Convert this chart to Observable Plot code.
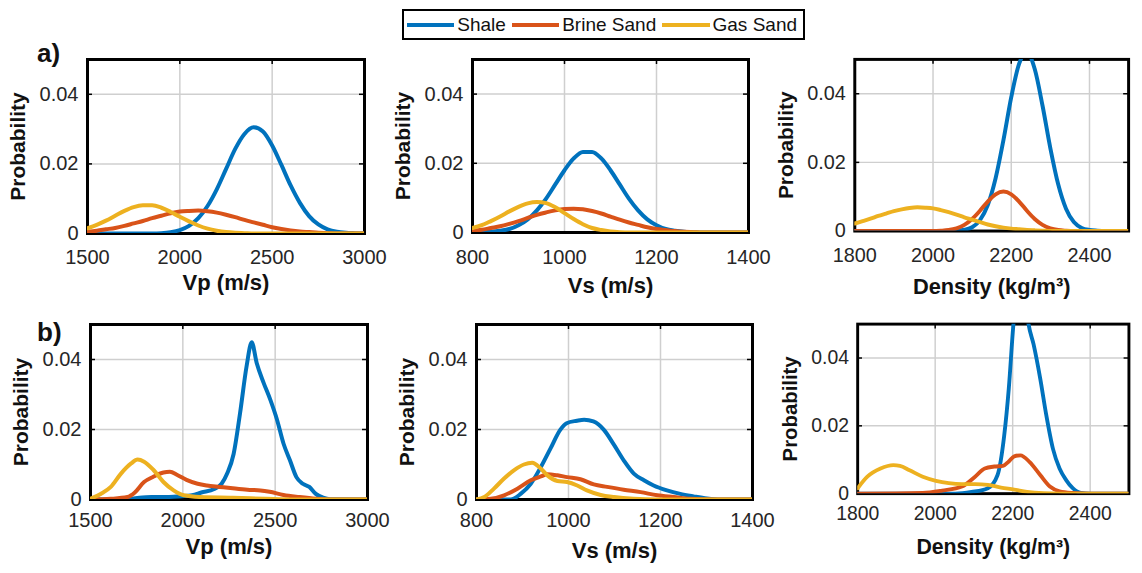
<!DOCTYPE html>
<html><head><meta charset="utf-8">
<script src="https://cdn.jsdelivr.net/npm/d3@7"></script>
<script src="https://cdn.jsdelivr.net/npm/@observablehq/plot@0.6"></script>
<style>
html,body{margin:0;padding:0;background:#fff;}
body{width:1142px;height:573px;overflow:hidden;position:relative;font-family:"Liberation Sans",Arial,Helvetica,sans-serif;}
.panel{position:absolute;}
.panel svg{overflow:visible;}
#legend{position:absolute;left:402px;top:9px;width:399px;height:27px;border:2px solid #000;display:flex;align-items:center;font-size:19px;color:#111;background:#fff;}
#legend .sw{display:inline-block;width:48px;height:4px;margin-right:3px;}
#legend .lb{margin-right:6px;white-space:nowrap;}
#tags{position:absolute;left:0;top:0;}
</style></head>
<body>
<div id="legend"></div>
<svg id="tags" width="1142" height="573"></svg>
<script>
// ---------- categories / styling lists ----------
const series = ["Shale", "Brine Sand", "Gas Sand"];
const seriesColors = ["#0072BD", "#D95319", "#EDB120"];
const yTicks = [0, 0.02, 0.04];
const vpTicks = [1500, 2000, 2500, 3000];
const vsTicks = [800, 1000, 1200, 1400];
const rhoTicks = [1800, 2000, 2200, 2400];
const vpLabel = "Vp (m/s)";
const vsLabel = "Vs (m/s)";
const rhoLabel = "Density (kg/m³)";
const yLabel = "Probability";
const rowTags = ["a)", "b)"];

// ---------- row a: smooth PDFs on regular grids ----------
const vpA_x = [1500,1550,1600,1650,1700,1750,1800,1850,1900,1950,2000,2050,2100,2150,2200,2250,2300,2350,2400,2450,2500,2550,2600,2650,2700,2750,2800,2850,2900,2950,3000];
const vpA_shale = [0,0,0,0,0,0,0,0,0.0001,0.0004,0.001,0.0022,0.0044,0.0079,0.0127,0.0185,0.0243,0.0286,0.0305,0.0293,0.0253,0.0197,0.0138,0.0088,0.005,0.0026,0.0012,0.0005,0.0002,0.0001,0];
const vpA_brine = [0.0005,0.0008,0.0012,0.0016,0.0022,0.0029,0.0036,0.0044,0.0051,0.0058,0.0063,0.0065,0.0066,0.0064,0.006,0.0054,0.0047,0.0039,0.0032,0.0025,0.0018,0.0013,0.0009,0.0006,0.0004,0.0002,0.0001,0,0,0,0];
const vpA_gas = [0.0015,0.0025,0.0037,0.0051,0.0065,0.0076,0.0081,0.0081,0.0074,0.0062,0.0048,0.0035,0.0023,0.0014,0.0008,0.0004,0.0002,0.0001,0,0,0,0,0,0,0,0,0,0,0,0,0];

const vsA_x = [800,820,840,860,880,900,920,940,960,980,1000,1020,1040,1060,1080,1100,1120,1140,1160,1180,1200,1220,1240,1260,1280,1300,1320,1340,1360,1380,1400];
const vsA_shale = [0,0.0001,0.0002,0.0005,0.001,0.0021,0.0038,0.0064,0.0098,0.0139,0.018,0.0214,0.0233,0.0233,0.0214,0.018,0.0139,0.0098,0.0064,0.0038,0.0021,0.001,0.0005,0.0002,0.0001,0,0,0,0,0,0];
const vsA_brine = [0.0005,0.0008,0.0013,0.0018,0.0025,0.0033,0.0042,0.0051,0.0058,0.0064,0.0068,0.0069,0.0067,0.0062,0.0055,0.0046,0.0037,0.0029,0.0022,0.0015,0.001,0.0007,0.0004,0.0002,0.0001,0,0,0,0,0,0];
const vsA_gas = [0.0013,0.0021,0.0033,0.0046,0.0061,0.0074,0.0084,0.0088,0.0085,0.0073,0.0056,0.0039,0.0024,0.0013,0.0007,0.0003,0.0001,0,0,0,0,0,0,0,0,0,0,0,0,0,0];

const rhoA_x = [1800,1820,1840,1860,1880,1900,1920,1940,1960,1980,2000,2020,2040,2060,2080,2100,2120,2140,2160,2180,2200,2220,2240,2260,2280,2300,2320,2340,2360,2380,2400,2420,2440,2460,2480,2500];
const rhoA_shale = [0,0,0,0,0,0,0,0,0,0,0,0,0,0.0001,0.0004,0.0011,0.0032,0.0076,0.0154,0.0265,0.039,0.0487,0.052,0.0472,0.0365,0.0241,0.0136,0.0065,0.0026,0.0009,0.0003,0.0001,0,0,0,0];
const rhoA_brine = [0,0,0,0,0,0,0,0,0,0,0,0.0001,0.0003,0.0008,0.0018,0.0035,0.0059,0.0086,0.0107,0.0115,0.0107,0.0086,0.0059,0.0035,0.0018,0.0008,0.0003,0.0001,0,0,0,0,0,0,0,0];
const rhoA_gas = [0.0022,0.0029,0.0036,0.0044,0.0051,0.0058,0.0063,0.0067,0.0069,0.0068,0.0066,0.0061,0.0055,0.0048,0.004,0.0033,0.0026,0.0019,0.0014,0.001,0.0007,0.0005,0.0003,0.0002,0.0001,0,0,0,0,0,0,0,0,0,0,0];

// ---------- row b: empirical PDFs as [x, probability] pairs ----------
const vpB_shale = [[1500,0],[1700,0.0001],[1780,0.0006],[1850,0.0007],[1950,0.0008],[2050,0.0012],[2100,0.002],[2170,0.003],[2210,0.0045],[2240,0.0074],[2275,0.013],[2310,0.0247],[2345,0.038],[2373,0.0449],[2400,0.039],[2437,0.0334],[2473,0.0286],[2510,0.0228],[2545,0.016],[2580,0.0112],[2615,0.0064],[2650,0.0045],[2685,0.0036],[2720,0.0016],[2760,0.0005],[2800,0.0001],[3000,0]];
const vpB_brine = [[1500,0],[1610,0.0002],[1700,0.0007],[1740,0.002],[1790,0.005],[1840,0.0065],[1895,0.0077],[1930,0.0079],[1970,0.007],[2020,0.0056],[2080,0.0045],[2130,0.004],[2200,0.0036],[2270,0.0032],[2350,0.0028],[2420,0.0026],[2470,0.0022],[2545,0.0013],[2630,0.0007],[2720,0.0002],[2800,0],[3000,0]];
const vpB_gas = [[1500,0.0002],[1555,0.0016],[1610,0.0036],[1665,0.0074],[1720,0.0103],[1755,0.0114],[1790,0.0108],[1840,0.0085],[1895,0.005],[1950,0.0026],[2005,0.0012],[2095,0.0007],[2270,0.0005],[2450,0.0002],[2600,0],[3000,0]];

const vsB_shale = [[800,0],[874,0],[896,0.0016],[918,0.0045],[940,0.0093],[961,0.0146],[982,0.0199],[996,0.0218],[1018,0.0225],[1034,0.0228],[1054,0.0223],[1077,0.0199],[1099,0.0156],[1120,0.0112],[1142,0.0074],[1164,0.0055],[1185,0.004],[1214,0.0026],[1243,0.0016],[1272,0.0009],[1301,0.0003],[1330,0],[1400,0]];
const vsB_brine = [[800,0],[831,0.0002],[860,0.0012],[889,0.0031],[918,0.0055],[940,0.0066],[954,0.0072],[976,0.0069],[997,0.0064],[1026,0.0058],[1055,0.0043],[1084,0.0036],[1120,0.0028],[1157,0.0021],[1193,0.0012],[1229,0.0007],[1265,0.0002],[1315,0],[1400,0]];
const vsB_gas = [[800,0],[817,0.0007],[838,0.0031],[860,0.006],[882,0.0084],[903,0.01],[921,0.0105],[940,0.0088],[954,0.0069],[976,0.0053],[997,0.005],[1019,0.004],[1040,0.0026],[1070,0.0013],[1099,0.0007],[1142,0.0002],[1193,0],[1400,0]];

const rhoB_shale = [[1800,0],[2052,0],[2094,0.0005],[2136,0.0016],[2161,0.0055],[2178,0.017],[2190,0.031],[2202,0.05],[2215,0.062],[2230,0.06],[2241,0.05],[2254,0.044],[2271,0.034],[2287,0.023],[2304,0.0132],[2321,0.0074],[2338,0.004],[2355,0.0016],[2376,0.0002],[2400,0],[2500,0]];
const rhoB_brine = [[1800,0],[1968,0.0002],[2018,0.0009],[2069,0.0021],[2103,0.005],[2128,0.0074],[2153,0.008],[2175,0.0082],[2190,0.0095],[2204,0.011],[2220,0.0113],[2244,0.0093],[2271,0.0055],[2296,0.0021],[2321,0.0007],[2355,0.0002],[2400,0],[2500,0]];
const rhoB_gas = [[1800,0.0016],[1825,0.005],[1859,0.0074],[1892,0.0084],[1909,0.0082],[1934,0.0069],[1968,0.005],[2002,0.0038],[2035,0.0031],[2069,0.0028],[2103,0.0028],[2136,0.0026],[2170,0.0018],[2204,0.0012],[2237,0.0005],[2279,0.0001],[2320,0],[2500,0]];

// ---------- build tidy tables ----------
function fromGrid(xs, ...ys) {
  const rows = [];
  ys.forEach((vals, i) => vals.forEach((v, j) => rows.push({x: xs[j], y: v, series: series[i]})));
  return rows;
}
function fromPairs(...lists) {
  const rows = [];
  lists.forEach((pairs, i) => pairs.forEach(([x, y]) => rows.push({x, y, series: series[i]})));
  return rows;
}

const panels = [
  {rows: fromGrid(vpA_x, vpA_shale, vpA_brine, vpA_gas), dom: [1500, 3000], ticks: vpTicks, label: vpLabel, f: {l: 87, r: 364, t: 59, b: 233}, pad: 16, ldy: 56},
  {rows: fromGrid(vsA_x, vsA_shale, vsA_brine, vsA_gas), dom: [800, 1400], ticks: vsTicks, label: vsLabel, f: {l: 472, r: 748, t: 59, b: 232}, pad: 17, ldy: 60},
  {rows: fromGrid(rhoA_x, rhoA_shale, rhoA_brine, rhoA_gas), dom: [1800, 2500], ticks: rhoTicks, label: rhoLabel, f: {l: 855, r: 1131, t: 59, b: 232}, pad: 17, ldy: 63},
  {rows: fromPairs(vpB_shale, vpB_brine, vpB_gas), dom: [1500, 3000], ticks: vpTicks, label: vpLabel, f: {l: 90, r: 367, t: 324, b: 499}, pad: 13, ldy: 54},
  {rows: fromPairs(vsB_shale, vsB_brine, vsB_gas), dom: [800, 1400], ticks: vsTicks, label: vsLabel, f: {l: 476, r: 752, t: 324, b: 499}, pad: 13, ldy: 58},
  {rows: fromPairs(rhoB_shale, rhoB_brine, rhoB_gas), dom: [1800, 2500], ticks: rhoTicks, label: rhoLabel, f: {l: 860, r: 1140, t: 324, b: 499}, pad: 13, ldy: 62}
];

const mL = 90, mT = 12, mR = 14, mB = 70;
const font = '"Liberation Sans", Arial, Helvetica, sans-serif';
const ink = "#262626";

for (const p of panels) {
  const w = p.f.r - p.f.l, h = p.f.b - p.f.t;
  const plot = Plot.plot({
    width: w + mL + mR,
    height: h + mT + mB,
    marginLeft: mL, marginTop: mT, marginRight: mR, marginBottom: mB,
    style: {fontSize: "20px", fontFamily: font, color: ink, background: "transparent", overflow: "visible"},
    x: {domain: p.dom},
    y: {domain: [0, 0.05]},
    color: {domain: series, range: seriesColors},
    marks: [
      Plot.gridX(p.ticks, {stroke: "#cfcfcf", strokeOpacity: 1, strokeWidth: 1.5}),
      Plot.gridY(yTicks, {stroke: "#cfcfcf", strokeOpacity: 1, strokeWidth: 1.5}),
      Plot.frame({stroke: "#000", strokeWidth: 3}),
      // inward MATLAB-style tick marks
      Plot.ruleX(p.ticks, {x: d => d, stroke: "#000", strokeWidth: 1.5, insetBottom: h - 5}),
      Plot.ruleY(yTicks, {y: d => d, stroke: "#000", strokeWidth: 1.5, insetLeft: w - 5}),
      Plot.ruleY(yTicks, {y: d => d, stroke: "#000", strokeWidth: 1.5, insetRight: w - 5}),
      Plot.axisX(p.ticks, {tickSize: 0, tickPadding: p.pad, tickFormat: d => String(d), label: null, fill: ink, fontSize: 20}),
      Plot.axisY(yTicks, {tickSize: 0, tickPadding: 9, tickFormat: d => d === 0 ? "0" : d.toFixed(2), label: null, fill: ink, fontSize: 20}),
      Plot.line(p.rows, {x: "x", y: "y", z: "series", stroke: "series", strokeWidth: 4, curve: "monotone-x", clip: true}),
      Plot.text([p.label], {text: d => d, frameAnchor: "bottom", textAnchor: "middle", lineAnchor: "bottom", dy: p.ldy, fontWeight: "bold", fontSize: 22, fill: "#111"}),
      Plot.text([yLabel], {text: d => d, frameAnchor: "left", textAnchor: "middle", lineAnchor: "middle", rotate: -90, dx: -69, fontWeight: "bold", fontSize: 21, fill: "#111"})
    ]
  });
  const div = document.createElement("div");
  div.className = "panel";
  div.style.left = (p.f.l - mL) + "px";
  div.style.top = (p.f.t - mT) + "px";
  div.appendChild(plot);
  document.body.appendChild(div);
}

// legend
const legend = d3.select("#legend");
legend.append("span").style("width", "3px");
series.forEach((s, i) => {
  legend.append("span").attr("class", "sw").style("background", seriesColors[i]);
  legend.append("span").attr("class", "lb").text(s);
});

// row tags
const tags = d3.select("#tags");
tags.selectAll("text").data(rowTags).join("text")
  .attr("x", 37)
  .attr("y", (d, i) => i === 0 ? 62 : 341)
  .attr("font-family", font)
  .attr("font-weight", "bold")
  .attr("font-size", 26)
  .attr("fill", "#111")
  .text(d => d);
</script>
</body></html>
